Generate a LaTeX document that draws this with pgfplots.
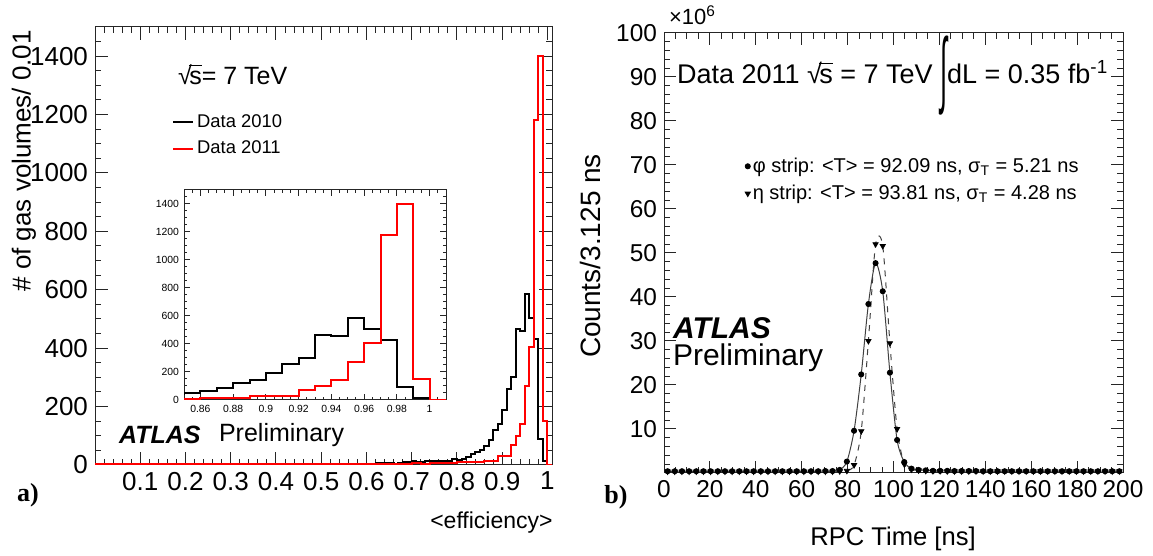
\documentclass[border=0pt]{standalone}
\usepackage{fontspec}
\setmainfont{Liberation Sans}
\newfontfamily\seriffont{Liberation Serif}
\usepackage{graphicx}
\usepackage{pgfplots}
\usepackage{pgfplotstable}
\pgfplotsset{compat=1.18}

% sqrt with an overbar, ROOT style
\newcommand{\rts}[1]{√\kern-0.1em\setbox0=\hbox{#1}\rlap{\rule[0.74em]{\wd0}{0.05em}}\box0\relax}
\newcommand{\fs}[1]{\fontsize{#1}{1.2\dimexpr #1pt\relax}\selectfont}

% efficiency histograms: bin left edge, entries per 0.01
\pgfplotstableread{
x y
0.00 2
0.50 3
0.52 4
0.53 3
0.55 4
0.57 5
0.58 4
0.60 5
0.62 8
0.63 6
0.65 6
0.66 4
0.67 7
0.68 9
0.70 12
0.71 10
0.73 12
0.75 14
0.76 12
0.77 15
0.78 13
0.79 20
0.80 18
0.81 22
0.82 28
0.83 36
0.84 44
0.85 50
0.86 65
0.87 85
0.88 120
0.89 140
0.90 190
0.91 260
0.92 300
0.93 465
0.94 460
0.95 585
0.96 505
0.97 430
0.98 90
0.99 15
1.00 0
1.01 0
}\dataten

\pgfplotstableread{
x y
0.00 4
0.70 6
0.72 5
0.74 7
0.76 6
0.78 8
0.80 9
0.82 10
0.84 9
0.85 10
0.86 15
0.89 30
0.92 70
0.93 100
0.94 140
0.95 270
0.96 405
0.97 1180
0.98 1400
0.99 150
1.00 0
1.01 0
}\dataeleven

% RPC time: bin centre, phi strips, eta strips (x 10^6)
\pgfplotstableread{
t phi eta
1.5625 0.4 0.35
4.6875 0.4 0.35
7.8125 0.4 0.35
10.9375 0.4 0.35
14.0625 0.4 0.35
17.1875 0.4 0.35
20.3125 0.4 0.35
23.4375 0.4 0.35
26.5625 0.4 0.35
29.6875 0.4 0.35
32.8125 0.4 0.35
35.9375 0.4 0.35
39.0625 0.4 0.35
42.1875 0.4 0.35
45.3125 0.4 0.35
48.4375 0.4 0.35
51.5625 0.4 0.35
54.6875 0.4 0.35
57.8125 0.4 0.35
60.9375 0.4 0.35
64.0625 0.4 0.35
67.1875 0.4 0.35
70.3125 0.45 0.35
73.4375 0.45 0.35
76.5625 0.7 0.4
79.6875 2.6 0.5
82.8125 9.6 1.8
85.9375 22.4 9.5
89.0625 38.4 30.0
92.1875 47.7 52.0
95.3125 41.3 51.6
98.4375 22.8 29.5
101.5625 7.5 10.0
104.6875 2.5 2.0
107.8125 1.0 0.8
110.9375 0.7 0.6
114.0625 0.6 0.5
117.1875 0.5 0.45
120.3125 0.5 0.45
123.4375 0.5 0.4
126.5625 0.45 0.4
129.6875 0.45 0.4
132.8125 0.45 0.4
135.9375 0.45 0.4
139.0625 0.4 0.4
142.1875 0.4 0.4
145.3125 0.4 0.4
148.4375 0.4 0.4
151.5625 0.4 0.4
154.6875 0.4 0.4
157.8125 0.4 0.4
160.9375 0.4 0.4
164.0625 0.4 0.4
167.1875 0.4 0.4
170.3125 0.4 0.4
173.4375 0.4 0.4
176.5625 0.4 0.4
179.6875 0.4 0.4
182.8125 0.4 0.4
185.9375 0.4 0.4
189.0625 0.4 0.4
192.1875 0.4 0.4
195.3125 0.4 0.4
198.4375 0.4 0.4
}\rpctime

\pgfplotsset{
  rootframe/.style={
    scale only axis,
    axis line style={line width=0.5pt, black!85},
    every tick/.style={black!85, line width=0.5pt},
    tick align=inside,
    /pgf/number format/assume math mode=true,
    /pgf/number format/set thousands separator={},
  },
}

\begin{document}
\begin{tikzpicture}
\path[use as bounding box] (0,0) rectangle (576.5pt,278pt);

% ---- a) efficiency ----
\begin{axis}[rootframe,
  at={(47.5pt,45.5pt)}, anchor=south west,
  width=228.5pt, height=219pt,
  xmin=0, xmax=1.01, ymin=0, ymax=1500,
  xtick={0.1,0.2,0.3,0.4,0.5,0.6,0.7,0.8,0.9,1},
  minor xtick={0,0.02,...,1.01},
  ytick={0,200,400,600,800,1000,1200,1400},
  minor ytick={0,50,...,1500},
  major tick length=6.5pt, minor tick length=3pt,
  tick label style={font=\fs{13}},
  legend style={at={(0.168,0.752)}, anchor=west, draw=none, fill=none,
    font=\fs{9.2}, row sep=2.5pt, inner sep=0pt, nodes={inner sep=1.5pt}},
  legend cell align=left,
  legend image code/.code={\draw[#1] (0pt,0pt) -- (10pt,0pt);},
]
\addplot[black, line width=1pt, const plot mark left] table {\dataten};
\addlegendentry{Data 2010}
\addplot[red, line width=1pt, const plot mark left] table {\dataeleven};
\addlegendentry{Data 2011}
\end{axis}

% inset
\begin{axis}[rootframe,
  at={(92pt,78pt)}, anchor=south west,
  width=131pt, height=105pt,
  axis background/.style={fill=white},
  xmin=0.85, xmax=1.01, ymin=0, ymax=1500,
  xtick={0.86,0.88,0.9,0.92,0.94,0.96,0.98,1},
  minor xtick={0.855,0.86,...,1.01},
  ytick={0,200,400,600,800,1000,1200,1400},
  minor ytick={0,50,...,1500},
  major tick length=3pt, minor tick length=1.5pt,
  tick label style={font=\fs{5.2}},
  xticklabel style={yshift=1pt}, yticklabel style={xshift=1pt},
]
\addplot[black, line width=1pt, const plot mark left] table {\dataten};
\addplot[red, line width=1pt, const plot mark left] table {\dataeleven};
\end{axis}

\node[rotate=90, anchor=east, font=\fs{13}] at (12pt,266.5pt) {\# of gas volumes/ 0.01};
\node[anchor=west, font=\fs{12.5}] at (85.5pt,240.5pt) {\rts{s}= 7 TeV};
\node[anchor=west, font=\fs{12.5}\bfseries\itshape] at (56pt,60.5pt) {ATLAS};
\node[anchor=west, font=\fs{12.5}] at (106pt,60.5pt) {Preliminary};
\node[anchor=east, inner sep=0pt, font=\fs{11.5}] at (276.5pt,16.5pt) {<efficiency>};
\node[font=\fs{13}\seriffont\bfseries] at (14pt,30.5pt) {a)};

% ---- b) RPC time ----
\begin{axis}[rootframe,
  at={(332pt,41.5pt)}, anchor=south west,
  width=229.5pt, height=220pt,
  xmin=0, xmax=200, ymin=0, ymax=100,
  xtick={0,20,...,200}, minor xtick={0,5,...,200},
  ytick={10,20,...,100}, minor ytick={0,2,...,100},
  major tick length=6pt, minor tick length=3pt,
  tick label style={font=\fs{12.2}},
  legend style={at={(0.176,0.666)}, anchor=west, draw=none, fill=none,
    font=\fs{10}, row sep=2.5pt, inner sep=0pt, nodes={inner sep=1.2pt}},
  legend cell align=left,
  legend image code/.code={\draw[#1] plot coordinates {(2.5pt,0pt)};},
]
\addplot[black!75, line width=0.5pt, smooth, tension=0.45, forget plot] table[x=t, y=phi] {\rpctime};
\addplot[black!75, line width=0.5pt, dashed, smooth, tension=0.45, forget plot] table[x=t, y=eta] {\rpctime};
\addplot[only marks, black, mark=*, mark size=1.3pt] table[x=t, y=phi] {\rpctime};
\addlegendentry{φ strip: <T> = 92.09 ns, σ\textsubscript{T} = 5.21 ns}
\addplot[only marks, black, mark=triangle*, mark size=1.5pt, mark options={rotate=180}] table[x=t, y=eta] {\rpctime};
\addlegendentry{η strip: <T> = 93.81 ns, σ\textsubscript{T} = 4.28 ns}
\end{axis}

\node[anchor=west, font=\fs{11}] at (331pt,270.5pt) {×10\textsuperscript{6}};
\node[anchor=base west, font=\fs{13.5}] at (335pt,236pt)
  {Data 2011 \rts{s} = 7 TeV \raisebox{-0.5em}{\scalebox{0.95}[3.1]{∫}}dL = 0.35 fb\textsuperscript{-1}};
\node[anchor=west, font=\fs{15}\bfseries\itshape] at (333pt,114pt) {ATLAS};
\node[anchor=west, font=\fs{15}] at (333pt,99pt) {Preliminary};
\node[rotate=90, font=\fs{14}] at (295pt,150pt) {Counts/3.125 ns};
\node[font=\fs{12.8}] at (446.5pt,8.5pt) {RPC Time [ns]};
\node[font=\fs{13}\seriffont\bfseries] at (308pt,29.5pt) {b)};
\end{tikzpicture}
\end{document}
